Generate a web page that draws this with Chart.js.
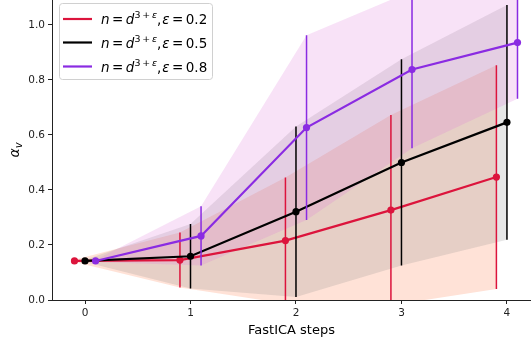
<!DOCTYPE html>
<html>
<head>
<meta charset="utf-8">
<script src="https://cdn.jsdelivr.net/npm/chart.js@4.4.1/dist/chart.umd.min.js"></script>
<style>
  html, body { margin: 0; padding: 0; background: #fff; }
  #wrap { position: relative; width: 531px; height: 347px; }
</style>
</head>
<body>
<div id="wrap"><canvas id="chart" width="531" height="347"></canvas></div>
<script>
// FastICA steps on the x axis, alpha_v on the y axis
var steps = [0, 1, 2, 3, 4];
var yTicks = [0, 0.2, 0.4, 0.6, 0.8, 1.0];
var epsLabels = ['0.2', '0.5', '0.8'];
var offsets = [-0.1, 0, 0.1];

// mean values (dots) and spread (error bar half length / band)
var meanEps02 = [0.142, 0.145, 0.216, 0.327, 0.447];
var stdEps02  = [0.004, 0.100, 0.229, 0.346, 0.407];
var meanEps05 = [0.142, 0.159, 0.321, 0.500, 0.646];
var stdEps05  = [0.004, 0.117, 0.310, 0.375, 0.427];
var meanEps08 = [0.142, 0.233, 0.627, 0.838, 0.936];
var stdEps08  = [0.004, 0.108, 0.336, 0.286, 0.204];

var lineColors = ['#dc143c', '#000000', '#8a2be2'];
var bandColors = ['rgba(255,160,122,0.3)', 'rgba(128,128,128,0.2)', 'rgba(218,112,214,0.2)'];

var series = [
  { mean: meanEps02, std: stdEps02 },
  { mean: meanEps05, std: stdEps05 },
  { mean: meanEps08, std: stdEps08 }
];

var datasets = [];
// bands first, all of them
series.forEach(function (s, k) {
  var off = offsets[k];
  var upper = steps.map(function (x, i) { return { x: x + off, y: s.mean[i] + s.std[i] }; });
  var lower = steps.map(function (x, i) { return { x: x + off, y: s.mean[i] - s.std[i] }; });
  datasets.push({ data: upper, fill: '+1', backgroundColor: bandColors[k], borderColor: 'transparent', borderWidth: 0, pointRadius: 0 });
  datasets.push({ data: lower, fill: false, borderColor: 'transparent', borderWidth: 0, pointRadius: 0 });
});
// then error bars and mean lines
series.forEach(function (s, k) {
  var off = offsets[k];
  var errs = [];
  steps.forEach(function (x, i) {
    if (i === 0) return; // no visible bar at step 0
    errs.push({ x: x + off, y: s.mean[i] - s.std[i] });
    errs.push({ x: x + off, y: s.mean[i] + s.std[i] });
    errs.push({ x: x + off, y: null });
  });
  var pts = steps.map(function (x, i) { return { x: x + off, y: s.mean[i] }; });
  datasets.push({ data: errs, fill: false, borderColor: lineColors[k], borderWidth: 1.5, pointRadius: 0, spanGaps: false });
  datasets.push({ data: pts, fill: false, borderColor: lineColors[k], backgroundColor: lineColors[k], borderWidth: 2.2, pointRadius: 3.6, pointBorderWidth: 0 });
});
// later datasets drawn on top
datasets.forEach(function (d, i) { d.order = datasets.length - i; d.tension = 0; });

var FONT = "'DejaVu Sans', sans-serif";

// draw a run of math-like pieces: {t, it, sup, gap}
function drawRuns(ctx, runs, x, y, size) {
  runs.forEach(function (r) {
    if (r.gap) { x += r.gap; return; }
    var fs = r.sup ? size * 0.7 : size;
    ctx.font = (r.it ? 'italic ' : '') + fs + 'px ' + FONT;
    var dy = r.sup ? -size * 0.42 : 0;
    ctx.fillText(r.t, x, y + dy);
    x += ctx.measureText(r.t).width;
  });
  return x;
}

var decorations = {
  id: 'decorations',
  afterDraw: function (chart) {
    var ctx = chart.ctx;
    var area = chart.chartArea;
    ctx.save();
    ctx.fillStyle = '#000';
    ctx.textBaseline = 'alphabetic';

    // x axis title
    ctx.font = '13px ' + FONT;
    ctx.textAlign = 'center';
    ctx.fillText('FastICA steps', (area.left + area.right) / 2, 334);

    // y axis title alpha_v
    ctx.textAlign = 'left';
    ctx.translate(19, 150);
    ctx.rotate(-Math.PI / 2);
    ctx.font = 'italic 14px ' + FONT;
    var wa = ctx.measureText('α').width;
    ctx.font = 'italic 10px ' + FONT;
    var wv = ctx.measureText('v').width;
    var x0 = -(wa + wv) / 2;
    ctx.font = 'italic 14px ' + FONT;
    ctx.fillText('α', x0, 0);
    ctx.font = 'italic 10px ' + FONT;
    ctx.fillText('v', x0 + wa, 3);
    ctx.setTransform(1, 0, 0, 1, 0, 0);

    // legend box
    var bx = 59.5, by = 3.5, bw = 153, bh = 76, rr = 3;
    ctx.beginPath();
    ctx.moveTo(bx + rr, by);
    ctx.arcTo(bx + bw, by, bx + bw, by + bh, rr);
    ctx.arcTo(bx + bw, by + bh, bx, by + bh, rr);
    ctx.arcTo(bx, by + bh, bx, by, rr);
    ctx.arcTo(bx, by, bx + bw, by, rr);
    ctx.closePath();
    ctx.fillStyle = 'rgba(255,255,255,0.8)';
    ctx.fill();
    ctx.strokeStyle = '#d0d0d0';
    ctx.lineWidth = 1;
    ctx.stroke();

    var rows = [19, 42.5, 66.5];
    rows.forEach(function (ry, k) {
      ctx.strokeStyle = lineColors[k];
      ctx.lineWidth = 2.2;
      ctx.beginPath();
      ctx.moveTo(63, ry);
      ctx.lineTo(92, ry);
      ctx.stroke();
      ctx.fillStyle = '#000';
      drawRuns(ctx, [
        { t: 'n', it: true }, { gap: 2.5 }, { t: '=' }, { gap: 2.5 },
        { t: 'd', it: true }, { t: '3', sup: true }, { gap: 1.8 }, { t: '+', sup: true }, { gap: 1.8 },
        { t: 'ε', it: true, sup: true }, { t: ',' }, { gap: 0.8 }, { t: 'ε', it: true },
        { gap: 2.5 }, { t: '=' }, { gap: 2.5 }, { t: epsLabels[k] }
      ], 101, ry + 5, 13.5);
    });
    ctx.restore();
  }
};

var tickFont = { family: FONT, size: 10.5 };

new Chart(document.getElementById('chart'), {
  type: 'line',
  data: { datasets: datasets },
  options: {
    responsive: false,
    animation: false,
    devicePixelRatio: 1,
    layout: { padding: 0, autoPadding: false },
    plugins: { legend: { display: false }, tooltip: { enabled: false } },
    scales: {
      x: {
        type: 'linear',
        min: -0.313,
        max: 4.228,
        afterFit: function (s) { s.height = 47; s.paddingLeft = 0; s.paddingRight = 0; },
        afterBuildTicks: function (s) { s.ticks = steps.map(function (v) { return { value: v }; }); },
        grid: { display: true, drawOnChartArea: false, drawTicks: true, tickLength: 4, color: '#222' },
        border: { display: true, color: '#222', width: 1 },
        ticks: { font: tickFont, color: '#222', padding: 3, maxRotation: 0, callback: function (v) { return String(v); } }
      },
      y: {
        type: 'linear',
        min: 0,
        max: 1.0909,
        afterFit: function (s) { s.width = 52; s.paddingTop = 0; s.paddingBottom = 0; },
        afterBuildTicks: function (s) { s.ticks = yTicks.map(function (v) { return { value: v }; }); },
        grid: { display: true, drawOnChartArea: false, drawTicks: true, tickLength: 4, color: '#222' },
        border: { display: true, color: '#222', width: 1 },
        ticks: { font: tickFont, color: '#222', padding: 3, callback: function (v) { return v.toFixed(1); } }
      }
    }
  },
  plugins: [decorations]
});
</script>
</body>
</html>
